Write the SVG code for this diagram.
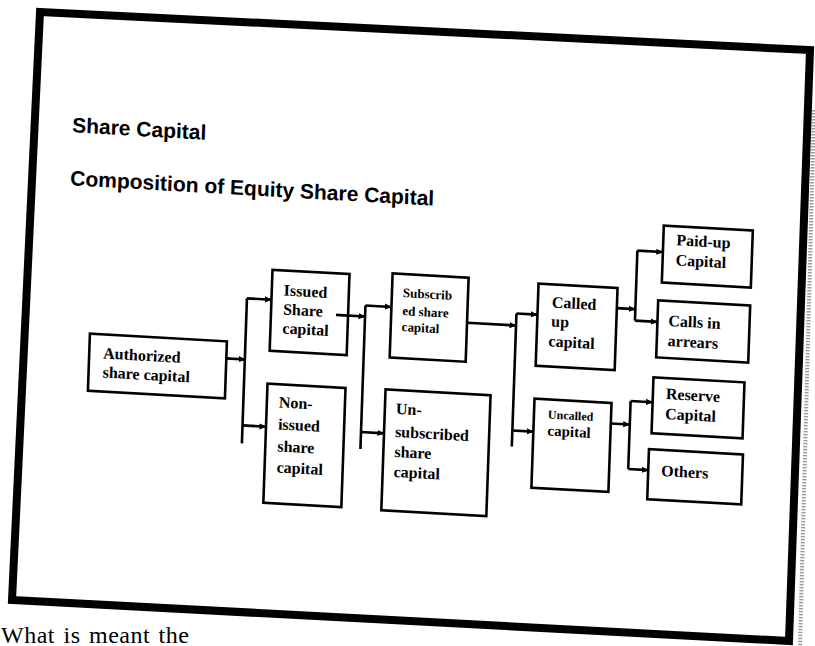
<svg xmlns="http://www.w3.org/2000/svg" width="815" height="646" viewBox="0 0 815 646">
<style>
.box{fill:#fff;stroke:#000;stroke-width:2.6}
.t{font-family:"Liberation Serif","Times New Roman",serif;font-weight:bold;font-size:16px;fill:#000}
.sm{font-size:13px}
.xs{font-size:12px}
.md{font-size:15px}
.title{font-family:"Liberation Sans",Arial,sans-serif;font-weight:bold;font-size:21px;fill:#000}
.ln{fill:none;stroke:#000;stroke-width:2.6}
.arr{marker-end:url(#ah)}
</style>
<defs>
<marker id="ah" viewBox="0 0 8 8" refX="7.5" refY="4" markerWidth="7" markerHeight="7" markerUnits="userSpaceOnUse" orient="auto"><path d="M0,0.5 L8,4 L0,7.5 Z" fill="#000"/></marker>
</defs>
<rect x="0" y="0" width="815" height="646" fill="#fff"/>
<path d="M814,110 L800,646" stroke="#9a9a9a" stroke-width="4" stroke-dasharray="1.5 1.5" fill="none"/>
<polygon id="frame" points="40,12 810,50 789,641 12,600" fill="none" stroke="#000" stroke-width="8" stroke-linejoin="miter"/>
<text x="1" y="643" font-family="'Liberation Serif','Times New Roman',serif" font-size="24" letter-spacing="0.5" word-spacing="2" fill="#000">What is meant the</text>
<g id="slide" transform="matrix(1,0.056,-0.035,1,11.2,-22.4)">
<text class="title" x="66" y="151">Share Capital</text>
<text class="title" x="66" y="204">Composition of Equity Share Capital</text>
<g id="connectors">
<path class="ln arr" d="M228,368 H247"/>
<path class="ln" d="M246.5,307 V452"/>
<path class="ln arr" d="M246.5,307 H271"/>
<path class="ln arr" d="M246.5,434 H270"/>
<path class="ln arr" d="M336,318.5 H365"/>
<path class="ln" d="M365,307.5 V451"/>
<path class="ln arr" d="M365,307.5 H391"/>
<path class="ln arr" d="M365,434 H388"/>
<path class="ln arr" d="M467,319 H516"/>
<path class="ln" d="M516,307 V440"/>
<path class="ln arr" d="M516,307 H537"/>
<path class="ln arr" d="M516,424 H537"/>
<path class="ln arr" d="M616,296 H634.5"/>
<path class="ln" d="M634.5,237.5 V307.5"/>
<path class="ln arr" d="M634.5,237.5 H660"/>
<path class="ln arr" d="M634.5,307.5 H657"/>
<path class="ln arr" d="M614,411.5 H633"/>
<path class="ln" d="M633,388 V456"/>
<path class="ln arr" d="M633,388 H655"/>
<path class="ln arr" d="M633,456 H653"/>
</g>
<g id="authorized"><rect class="box" x="91" y="351" width="137" height="57"/><text class="t" x="105" y="375">Authorized</text><text class="t" x="105" y="394">share capital</text></g>
<g id="issued"><rect class="box" x="271" y="277" width="77" height="81"/><text class="t" x="283" y="302">Issued</text><text class="t" x="283" y="321">Share</text><text class="t" x="283" y="340">capital</text></g>
<path class="ln" d="M336,318.5 H348"/>
<g id="nonissued"><rect class="box" x="270" y="391" width="78" height="119"/><text class="t" x="282" y="414">Non-</text><text class="t" x="282" y="436">issued</text><text class="t" x="282" y="458">share</text><text class="t" x="282" y="479">capital</text></g>
<g id="subscribed"><rect class="box" x="391" y="274" width="76" height="84"/><text class="t sm" x="402" y="297">Subscrib</text><text class="t sm" x="402" y="315">ed share</text><text class="t sm" x="402" y="331">capital</text></g>
<g id="unsubscribed"><rect class="box" x="388" y="390" width="105" height="121"/><text class="t" x="399" y="414">Un-</text><text class="t" x="399" y="437">subscribed</text><text class="t" x="399" y="457">share</text><text class="t" x="399" y="477">capital</text></g>
<g id="calledup"><rect class="box" x="537" y="276" width="79" height="82"/><text class="t" x="551" y="299">Called</text><text class="t" x="551" y="318">up</text><text class="t" x="549" y="338">capital</text></g>
<g id="uncalled"><rect class="box" x="537" y="391" width="77" height="89"/><text class="t xs" x="551" y="410">Uncalled</text><text class="t md" x="551" y="427">capital</text></g>
<g id="paidup"><rect class="box" x="660" y="211" width="89" height="57"/><text class="t" x="673" y="230">Paid-up</text><text class="t" x="673" y="250">Capital</text></g>
<g id="callsinarrears"><rect class="box" x="657" y="286" width="92" height="57"/><text class="t" x="668" y="311">Calls in</text><text class="t" x="668" y="331">arrears</text></g>
<g id="reserve"><rect class="box" x="655" y="363" width="91" height="56"/><text class="t" x="668" y="384">Reserve</text><text class="t" x="668" y="404">Capital</text></g>
<g id="others"><rect class="box" x="653" y="435" width="94" height="50"/><text class="t" x="666" y="461">Others</text></g>
</g>
</svg>
